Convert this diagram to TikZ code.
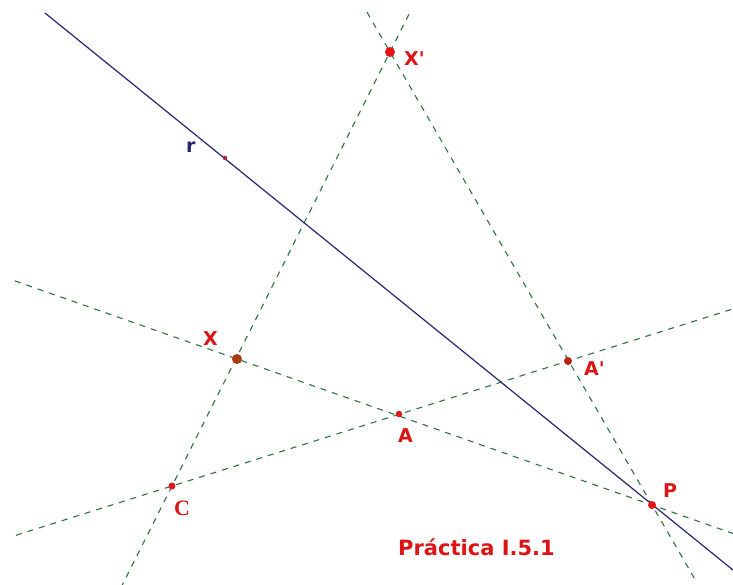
\documentclass[tikz,border=0pt]{standalone}
\usepackage{fontspec}
\setmainfont{DejaVu Sans}
\newfontfamily\lblfont{DejaVu Sans}
\newfontfamily\serifbold{Liberation Serif}
\usetikzlibrary{calc}
\newcommand{\qs}{{\lblfont\XeTeXglyph\XeTeXglyphindex "quotesingle"\relax}}
\definecolor{lblred}{RGB}{221,20,20}
\definecolor{dotred}{RGB}{228,22,22}
\definecolor{dotbrown}{RGB}{170,60,22}
\definecolor{dotdark}{RGB}{185,35,22}
\definecolor{lgreen}{RGB}{45,115,60}
\definecolor{lblue}{RGB}{38,38,112}
\definecolor{rmag}{RGB}{175,30,80}
\tikzset{
  dline/.style={lgreen, line width=1.1pt, dash pattern=on 6pt off 6pt},
  bline/.style={lblue, line width=1.2pt},
  pdot/.style={circle, inner sep=0pt, minimum size=#1, fill=dotred},
  lbl/.style={lblred, inner sep=0pt, anchor=base west, font=\fontsize{19}{20}\lblfont\bfseries},
}
\begin{document}
\begin{tikzpicture}[x=1pt,y=-1pt]
\path[use as bounding box, fill=white] (0,0) rectangle (733,584);
% points
\coordinate (Xp) at (390,52);
\coordinate (X) at (237,359);
\coordinate (A) at (399,414);
\coordinate (Ap) at (568,361);
\coordinate (C) at (172,486);
\coordinate (P) at (652,505);
\coordinate (R) at (225,158);
\coordinate (r1) at (45,13);
\coordinate (r2) at (733,570);
% dashed lines
\draw[dline] ($(C)!-0.235!(Xp)$) -- ($(C)!1.092!(Xp)$);
\draw[dline] ($(C)!-0.394!(Ap)$) -- ($(C)!1.417!(Ap)$);
\draw[dline] ($(X)!-0.535!(P)$) -- ($(X)!1.195!(P)$);
\draw[dline] ($(Xp)!-0.088!(P)$) -- ($(Xp)!1.161!(P)$);
% line r
\draw[bline] (r1) -- (r2);
% dots
\node[pdot=10pt] (nXp) at (Xp) {};
\node[pdot=10pt, fill=dotbrown] (nX) at (X) {};
\node[pdot=6.5pt] (nA) at (A) {};
\node[pdot=8pt, fill=dotdark] (nAp) at (Ap) {};
\node[pdot=7pt] (nC) at (C) {};
\node[pdot=8pt] (nP) at (P) {};
\node[pdot=4.5pt, fill=rmag] (nR) at (R) {};
% labels
\node[lbl] (lXp) at (404,65) {X\qs};
\node[lbl] (lX) at (203,345) {X};
\node[lbl] (lA) at (398,442) {A};
\node[lbl] (lAp) at (584,375) {A\qs};
\node[lbl, font=\fontsize{22}{24}\serifbold\bfseries] (lC) at (174,515) {C};
\node[lbl] (lP) at (663,497) {P};
\node[lbl, lblue] (lr) at (186,152) {r};
\node[lbl, font=\fontsize{21}{24}\lblfont\bfseries] (title) at (398,555) {Práctica I.5.1};
\end{tikzpicture}
\end{document}
